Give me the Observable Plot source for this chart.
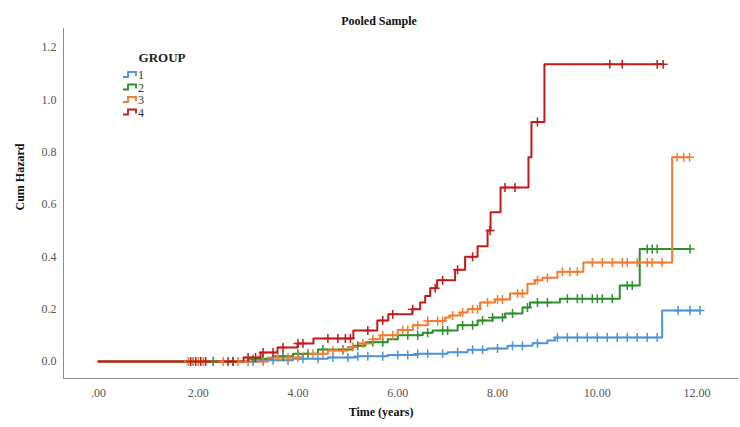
<!DOCTYPE html>
<html>
<head>
<meta charset="utf-8">
<script src="https://cdn.jsdelivr.net/npm/d3@7"></script>
<script src="https://cdn.jsdelivr.net/npm/@observablehq/plot@0.6"></script>
<style>
  html, body { margin: 0; padding: 0; background: #fff; }
  #chart svg { display: block; }
</style>
</head>
<body>
<div id="chart"></div>
<script>
// ---- data ----
const groups = ["1", "2", "3", "4"];
const colors = ["#4f94d8", "#2f8f2f", "#f37c32", "#c21a1a"];

// step times (years) and cumulative hazard after each step
const g1Times  = [3.3, 3.9, 4.6, 5.2, 5.8, 6.4, 7.0, 7.4, 7.8, 8.2, 8.7, 9.0, 9.15, 11.3];
const g1Hazard = [0.005, 0.01, 0.015, 0.02, 0.025, 0.03, 0.035, 0.045, 0.05, 0.06, 0.07, 0.08, 0.092, 0.195];
const g1End = 12.06;
const g1Censor = [3.1,3.3,3.5,3.8,4.1,4.4,4.7,5.0,5.2,5.4,5.7,6.0,6.2,6.4,6.6,6.9,7.2,7.5,7.7,8.0,8.3,8.5,8.8,9.2,9.4,9.6,9.8,10.0,10.2,10.4,10.6,10.8,11.0,11.2,11.62,11.86,12.06];

const g2Times  = [3.0, 3.5, 3.9, 4.4, 5.1, 5.35, 5.8, 6.0, 6.5, 6.7, 7.2, 7.6, 7.9, 8.15, 8.5, 8.65, 9.25, 10.45, 10.85];
const g2Hazard = [0.01, 0.02, 0.03, 0.046, 0.06, 0.073, 0.085, 0.10, 0.11, 0.118, 0.138, 0.157, 0.168, 0.183, 0.206, 0.225, 0.24, 0.29, 0.43];
const g2End = 11.86;
const g2Censor = [1.9,2.3,2.7,3.1,3.3,3.7,4.0,4.2,4.5,4.9,5.2,5.5,5.7,6.2,6.4,6.6,6.9,7.0,7.3,7.5,7.7,7.9,8.1,8.3,8.6,8.8,9.0,9.4,9.6,9.7,9.9,10.0,10.1,10.3,10.6,10.7,11.0,11.1,11.2,11.86];

const g3Times  = [3.4, 4.1, 4.6, 5.0, 5.2, 5.5, 5.65, 6.0, 6.3, 6.6, 6.95, 7.05, 7.25, 7.4, 7.65, 7.95, 8.25, 8.6, 8.75, 8.9, 9.2, 9.72, 11.5];
const g3Hazard = [0.015, 0.03, 0.042, 0.055, 0.069, 0.085, 0.10, 0.12, 0.138, 0.155, 0.168, 0.176, 0.187, 0.20, 0.225, 0.237, 0.26, 0.297, 0.31, 0.32, 0.343, 0.378, 0.78];
const g3End = 11.85;
const g3Censor = [1.8,1.9,2.0,2.1,2.5,2.8,3.0,3.3,3.6,3.8,4.0,4.3,4.5,4.7,4.9,5.1,5.3,5.5,5.7,5.9,6.1,6.2,6.4,6.6,6.8,6.9,7.1,7.3,7.5,7.6,7.8,8.0,8.1,8.4,8.5,8.8,9.0,9.3,9.45,9.6,9.9,10.1,10.3,10.5,10.6,10.8,11.0,11.1,11.3,11.6,11.73,11.85];

const g4Times  = [2.91, 3.25, 3.59, 3.99, 4.31, 5.11, 5.59, 5.81, 6.29, 6.45, 6.55, 6.65, 6.79, 7.15, 7.35, 7.6, 7.8, 7.86, 8.06, 8.62, 8.68, 8.94];
const g4Hazard = [0.015, 0.034, 0.053, 0.069, 0.088, 0.118, 0.157, 0.18, 0.20, 0.225, 0.25, 0.28, 0.31, 0.35, 0.40, 0.44, 0.50, 0.57, 0.665, 0.78, 0.915, 1.135];
const g4End = 11.32;
const g4Censor = [1.85,1.95,2.05,2.15,2.6,2.7,3.0,3.15,3.3,3.5,3.7,4.0,4.1,4.6,4.8,4.95,5.05,5.4,5.7,5.9,6.3,6.75,6.9,7.2,7.5,7.85,8.15,8.35,8.8,10.25,10.5,11.2,11.32];

const xTicks = [0, 2, 4, 6, 8, 10, 12];
const xTickLabels = [".00", "2.00", "4.00", "6.00", "8.00", "10.00", "12.00"];
const yTicks = [0, 0.2, 0.4, 0.6, 0.8, 1.0, 1.2];
const xDomain = [-0.7, 12.83];
const yDomain = [-0.065, 1.272];

const titleText = "Pooled Sample";
const xLabel = "Time (years)";
const yLabel = "Cum Hazard";
const legendTitle = "GROUP";

// ---- build tables ----
const series = [
  {g: "1", times: g1Times, hz: g1Hazard, end: g1End, cens: g1Censor},
  {g: "2", times: g2Times, hz: g2Hazard, end: g2End, cens: g2Censor},
  {g: "3", times: g3Times, hz: g3Hazard, end: g3End, cens: g3Censor},
  {g: "4", times: g4Times, hz: g4Hazard, end: g4End, cens: g4Censor}
];
const lineData = [];
const censorData = [];
for (const s of series) {
  lineData.push({group: s.g, t: 0, h: 0});
  s.times.forEach((t, i) => lineData.push({group: s.g, t, h: s.hz[i]}));
  lineData.push({group: s.g, t: s.end, h: s.hz[s.hz.length - 1]});
  for (const c of s.cens) {
    let h = 0;
    s.times.forEach((t, i) => { if (t <= c) h = s.hz[i]; });
    censorData.push({group: s.g, t: c, h});
  }
}

const font = "'Liberation Serif', 'Times New Roman', serif";

const chart = Plot.plot({
  width: 740,
  height: 427,
  marginLeft: 63,
  marginRight: 2,
  marginTop: 28,
  marginBottom: 49,
  style: {fontFamily: font, fontSize: "12px", background: "#fff"},
  x: {domain: xDomain},
  y: {domain: yDomain},
  color: {domain: groups, range: colors},
  marks: [
    Plot.ruleX([xDomain[0]], {stroke: "#8a8a8a", strokeWidth: 1}),
    Plot.ruleY([yDomain[0]], {stroke: "#8a8a8a", strokeWidth: 1}),
    Plot.axisY({ticks: yTicks, tickFormat: d3.format(".1f"), tickSize: 0, tickPadding: 7, label: null, fill: "#555", fontSize: 12}),
    Plot.axisX({ticks: xTicks, tickFormat: (d) => xTickLabels[xTicks.indexOf(d)], tickSize: 0, tickPadding: 10, label: null, fill: "#555", fontSize: 12}),
    Plot.line(lineData, {x: "t", y: "h", z: "group", stroke: "group", curve: "step-after", strokeWidth: 2}),
    Plot.dot(censorData, {x: "t", y: "h", stroke: "group", symbol: "plus", r: 3, strokeWidth: 1.5}),
    Plot.text([titleText], {frameAnchor: "top", dy: -12, dx: -22, fontWeight: "bold", fontSize: 12, fill: "#111"}),
    Plot.text([xLabel], {frameAnchor: "bottom", dy: 37, dx: -20, fontWeight: "bold", fontSize: 12, fill: "#111"}),
    Plot.text([yLabel], {frameAnchor: "left", dx: -43, dy: 7, rotate: -90, fontWeight: "bold", fontSize: 12, fill: "#111"})
  ]
});

// ---- legend inside the svg ----
const svg = d3.select(chart);
const lg = svg.append("g").attr("font-family", font);
lg.append("text").attr("x", 162).attr("y", 62).attr("text-anchor", "middle")
  .attr("font-weight", "bold").attr("font-size", 13).attr("fill", "#222").text(legendTitle);
groups.forEach((g, i) => {
  const y = 75 + i * 12.5;
  lg.append("path")
    .attr("d", `M123,${y + 2}h5v-5h8v4`)
    .attr("fill", "none").attr("stroke", colors[i]).attr("stroke-width", 1.8);
  lg.append("text").attr("x", 141).attr("y", y + 4).attr("font-size", 12).attr("fill", "#333").text(g);
});

document.getElementById("chart").appendChild(chart);
</script>
</body>
</html>
